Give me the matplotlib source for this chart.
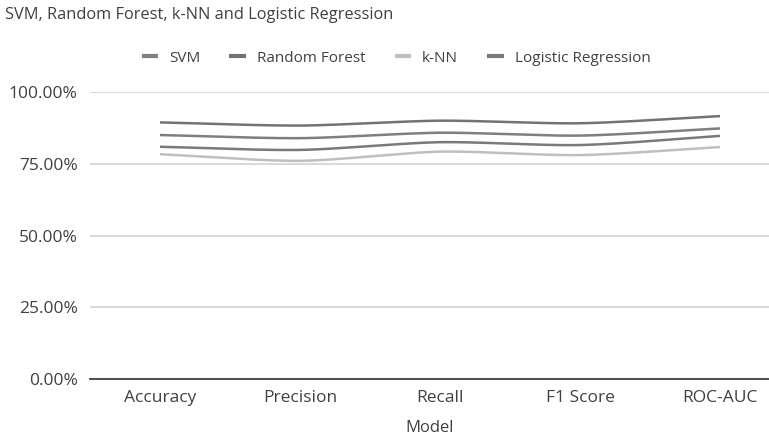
import numpy as np
import matplotlib
matplotlib.use("Agg")
import matplotlib.pyplot as plt
from matplotlib.ticker import FuncFormatter

plt.rcParams['font.family'] = ['Open Sans', 'DejaVu Sans']

categories = ["Accuracy", "Precision", "Recall", "F1 Score", "ROC-AUC"]
series_names = ["SVM", "Random Forest", "k-NN", "Logistic Regression"]
svm = [85.1, 84.0, 85.9, 84.9, 87.4]
random_forest = [89.5, 88.4, 90.1, 89.2, 91.7]
knn = [78.4, 76.1, 79.3, 78.1, 80.9]
logistic_regression = [81.0, 79.9, 82.6, 81.6, 84.8]
series_values = [svm, random_forest, knn, logistic_regression]
colors = ["#7f7f7f", "#737373", "#bfbfbf", "#7a7a7a"]


def smooth(x, y, n=40, tension=0.8):
    x = np.asarray(x, float)
    y = np.asarray(y, float)
    px = np.concatenate([[2 * x[0] - x[1]], x, [2 * x[-1] - x[-2]]])
    py = np.concatenate([[2 * y[0] - y[1]], y, [2 * y[-1] - y[-2]]])
    xs, ys = [], []
    t = np.linspace(0, 1, n)
    h00 = 2 * t ** 3 - 3 * t ** 2 + 1
    h10 = t ** 3 - 2 * t ** 2 + t
    h01 = -2 * t ** 3 + 3 * t ** 2
    h11 = t ** 3 - t ** 2
    for i in range(1, len(px) - 2):
        for arr, out in ((px, xs), (py, ys)):
            m1 = tension * 0.5 * (arr[i + 1] - arr[i - 1])
            m2 = tension * 0.5 * (arr[i + 2] - arr[i])
            out.append(h00 * arr[i] + h10 * m1 + h01 * arr[i + 1] + h11 * m2)
    return np.concatenate(xs), np.concatenate(ys)


fig = plt.figure(figsize=(7.69, 4.45), dpi=100)
ax = fig.add_axes([90 / 769, 1 - 379 / 445, (769 - 90) / 769, (379 - 92.3) / 445])

x = np.arange(len(categories))
for name, vals, c in zip(series_names, series_values, colors):
    sx, sy = smooth(x, vals)
    ax.plot(sx, sy, color=c, lw=1.8, label=name, solid_capstyle='butt')

ax.set_xlim(-0.5, -0.5 + 679 / 140)
ax.set_ylim(0, 100)
ax.set_yticks([0, 25, 50, 75, 100])
ax.yaxis.set_major_formatter(FuncFormatter(lambda v, p: f"{v:.2f}%"))
ax.set_xticks(x)
ax.set_xticklabels(categories)
ax.grid(axis='y', color='#d9d9d9', lw=1.5)
ax.set_axisbelow(True)
for s in ['top', 'right', 'left']:
    ax.spines[s].set_visible(False)
ax.spines['bottom'].set_color('#404040')
ax.spines['bottom'].set_linewidth(1.3)
ax.tick_params(axis='y', length=0, pad=9, labelsize=12.5, labelcolor='#404040')
ax.tick_params(axis='x', length=0, pad=8, labelsize=12.5, labelcolor='#404040')

ax.set_xlabel("Model", fontsize=12, color='#404040', labelpad=10)

fig.text(5 / 769, 1 - 15 / 445, "SVM, Random Forest, k-NN and Logistic Regression",
         fontsize=11.8, color='#404040', va='center', ha='left')

leg = fig.legend(loc='center', bbox_to_anchor=(396 / 769, 1 - 58 / 445), ncol=4,
                 frameon=False, fontsize=11, handlelength=1.1, handletextpad=0.7,
                 columnspacing=1.9)
for t in leg.get_texts():
    t.set_color('#404040')
for h in leg.legend_handles:
    h.set_linewidth(3.0)

fig.savefig("out.png", dpi=100)
